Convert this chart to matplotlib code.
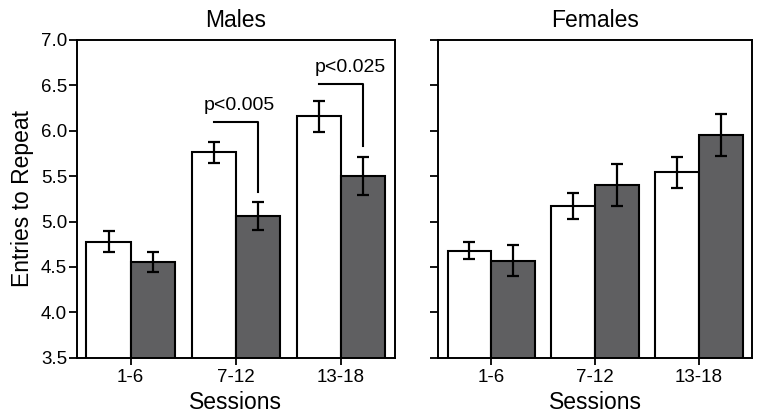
import numpy as np
import matplotlib
matplotlib.use("Agg")
import matplotlib.pyplot as plt

plt.rcParams['font.family'] = ['Liberation Sans', 'DejaVu Sans']

sessions = ['1-6', '7-12', '13-18']

# Males: white / gray bars, means and SE
males_white = [4.78, 5.76, 6.16]
males_white_se = [0.12, 0.12, 0.17]
males_gray = [4.55, 5.06, 5.50]
males_gray_se = [0.11, 0.15, 0.21]

# Females
females_white = [4.68, 5.17, 5.54]
females_white_se = [0.09, 0.14, 0.17]
females_gray = [4.57, 5.40, 5.95]
females_gray_se = [0.17, 0.23, 0.23]

# significance brackets (males)
sig_groups = [1, 2]
sig_labels = ['p<0.005', 'p<0.025']
sig_heights = [6.09, 6.51]

gray = '#5f5f61'
w = 0.42
x = np.arange(len(sessions))

fig = plt.figure(figsize=(7.62, 4.19), dpi=100)
ax1 = fig.add_axes([0.101, 0.146, 0.417, 0.759])
ax2 = fig.add_axes([0.575, 0.146, 0.412, 0.759])


def draw(ax, white, white_se, grey, grey_se):
    ax.bar(x - w / 2, white, w, color='white', edgecolor='black', linewidth=1.5, zorder=2)
    ax.bar(x + w / 2, grey, w, color=gray, edgecolor='black', linewidth=1.5, zorder=2)
    ax.errorbar(x - w / 2, white, yerr=white_se, fmt='none', ecolor='black',
                elinewidth=1.6, capsize=4, capthick=1.6, zorder=3)
    ax.errorbar(x + w / 2, grey, yerr=grey_se, fmt='none', ecolor='black',
                elinewidth=1.6, capsize=4, capthick=1.6, zorder=3)
    ax.set_xlim(-0.51, 2.51)
    ax.set_ylim(3.5, 7.0)
    ax.set_yticks(np.arange(3.5, 7.01, 0.5))
    ax.set_xticks(x)
    ax.set_xticklabels(sessions, fontsize=13.5)
    ax.tick_params(axis='y', length=6, width=1.3, labelsize=13.5, pad=1)
    ax.tick_params(axis='x', length=5, width=1.3, pad=3)
    for s in ax.spines.values():
        s.set_linewidth(1.4)
    ax.set_xlabel('Sessions', fontsize=16.5, labelpad=4)


draw(ax1, males_white, males_white_se, males_gray, males_gray_se)
draw(ax2, females_white, females_white_se, females_gray, females_gray_se)
ax1.set_yticklabels(['%.1f' % v for v in np.arange(3.5, 7.01, 0.5)])
ax2.set_yticklabels([])
ax1.set_ylabel('Entries to Repeat', fontsize=16.5, labelpad=5)
ax1.set_title('Males', fontsize=16.5, pad=9)
ax2.set_title('Females', fontsize=16.5, pad=9)

for g, lab, h in zip(sig_groups, sig_labels, sig_heights):
    top = males_gray[g] + males_gray_se[g]
    ax1.plot([g - 0.21, g + 0.21, g + 0.21], [h, h, top + 0.12],
             color='black', linewidth=1.5, zorder=4)
    ax1.text(g + 0.03 if g == 1 else g + 0.09, h + 0.09, lab, fontsize=14,
             ha='center', va='bottom')

fig.savefig('out.png', dpi=100)
